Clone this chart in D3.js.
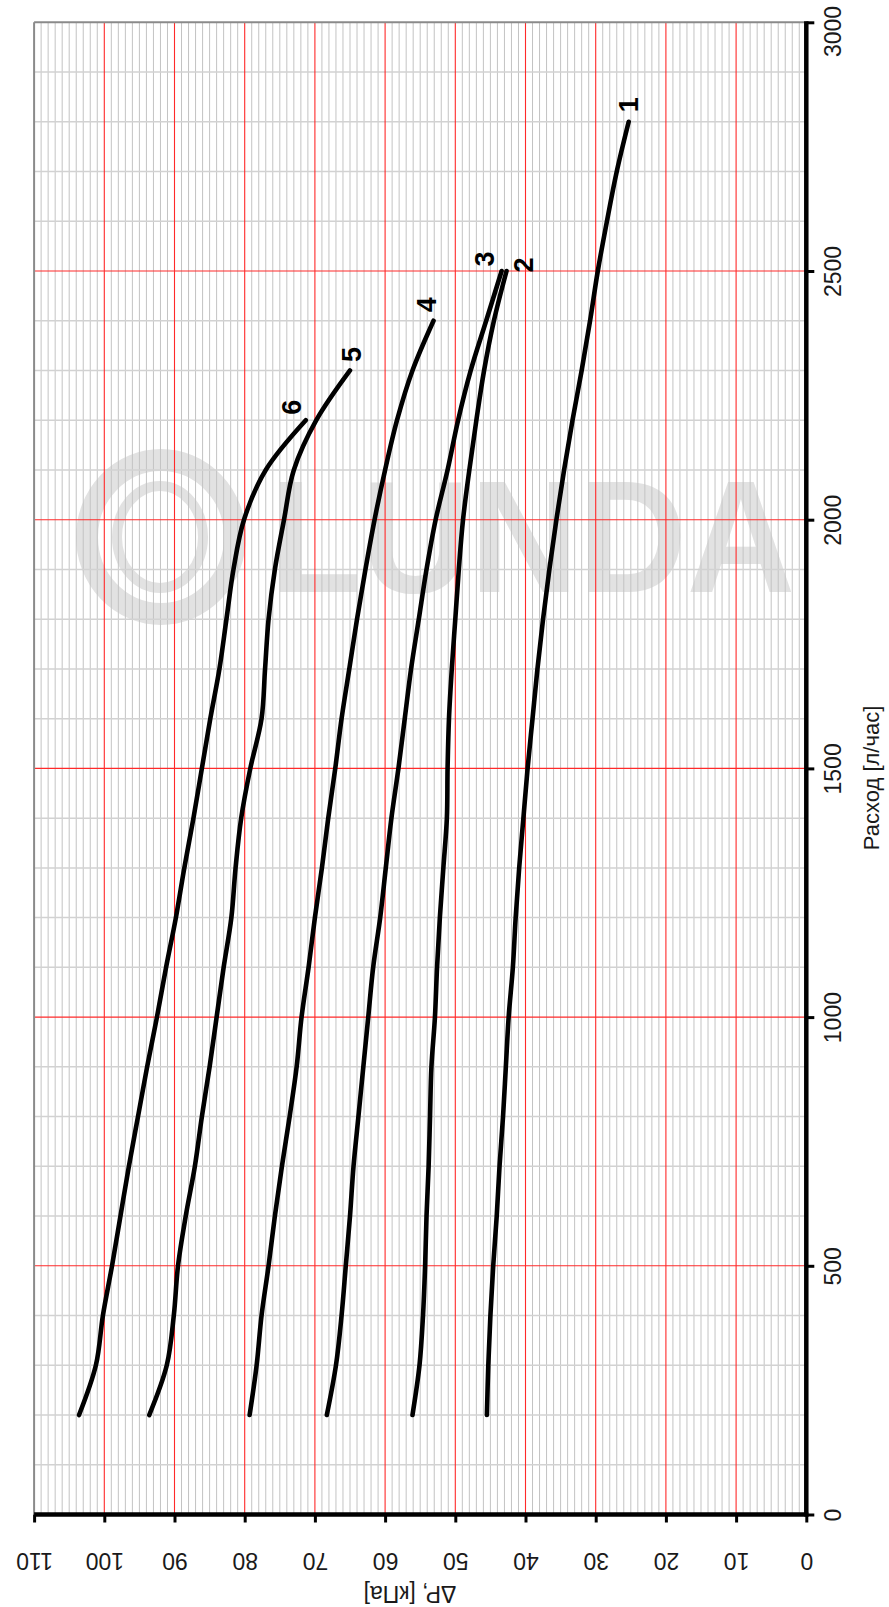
<!DOCTYPE html>
<html>
<head>
<meta charset="utf-8">
<script src="https://cdn.jsdelivr.net/npm/d3@7"></script>
<style>
html,body{margin:0;padding:0;background:#fff;}
svg{display:block;font-family:"Liberation Sans",Arial,sans-serif;}
</style>
</head>
<body>
<svg id="chart" width="889" height="1607"></svg>
<script>
// ---- data ----
const flowPoints = [200,300,400,500,600,700,800,900,1000,1100,1200,1300,1400,1500,1600,1700,1800,1900,2000,2100,2200,2300,2400,2500,2600,2700,2800];
const dp1 = [45.5,45.3,45.0,44.6,44.1,43.7,43.2,42.8,42.4,41.8,41.4,40.9,40.3,39.7,39.0,38.3,37.5,36.6,35.6,34.5,33.3,32.0,30.8,29.7,28.4,27.0,25.3];
const dp2 = [56.1,55.1,54.6,54.3,54.1,53.8,53.6,53.4,52.9,52.6,52.2,51.7,51.2,51.1,50.9,50.5,50.0,49.5,48.9,48.0,47.0,45.9,44.5,42.7];
const dp3 = [68.3,67.0,66.2,65.6,65.0,64.5,63.8,63.1,62.4,61.7,60.7,59.9,59.1,58.1,57.2,56.3,55.2,54.1,52.8,51.1,49.6,47.8,45.6,43.4];
const dp4 = [79.3,78.3,77.6,76.6,75.7,74.7,73.6,72.6,71.9,70.9,70.0,69.0,68.1,67.1,66.2,65.1,64.0,62.8,61.5,60.0,58.3,56.1,53.1];
const dp5 = [93.6,91.1,90.1,89.5,88.4,87.1,86.1,85.0,84.0,83.0,81.9,81.3,80.5,79.2,77.6,77.1,76.6,75.7,74.4,73.0,69.8,65.0];
const dp6 = [103.6,101.2,100.2,98.9,97.7,96.5,95.2,93.9,92.5,91.2,89.8,88.6,87.3,86.1,84.9,83.6,82.6,81.6,80.1,77.0,71.3];
const curveNames = ["1","2","3","4","5","6"];
const flowTicks = [0,500,1000,1500,2000,2500,3000];
const dpTicks = [0,10,20,30,40,50,60,70,80,90,100,110];
const flowTitle = "Расход [л/час]";
const dpTitle = "ΔP, [кПа]";
const watermarkText = "LUNDA";

// label nudges (pixels) relative to curve end points
const labelNudge = [[0,-17],[17,-6],[-17,-12],[-7,-16],[2,-16],[-14,-13]];

const series = [dp1,dp2,dp3,dp4,dp5,dp6].map((arr,i)=>({
  name: curveNames[i],
  pts: arr.map((v,j)=>({f: flowPoints[j], p: v}))
}));

// ---- scales (chart rotated: flow runs up, ΔP runs to the left) ----
const y = d3.scaleLinear().domain([0,3000]).range([1514.5,22.3]);
const x = d3.scaleLinear().domain([0,110]).range([806.3,34.1]);

const svg = d3.select("#chart");

// ---- watermark ----
const wmColor = "#e2e2e2";
const wm = svg.append("g").attr("class","watermark");
wm.append("ellipse").attr("cx",161).attr("cy",537).attr("rx",74).attr("ry",77)
  .attr("fill","none").attr("stroke",wmColor).attr("stroke-width",22);
wm.append("ellipse").attr("cx",160).attr("cy",537).attr("rx",43).attr("ry",51)
  .attr("fill","none").attr("stroke",wmColor).attr("stroke-width",10);
wm.append("text").attr("x",270).attr("y",592)
  .attr("font-size",160).attr("font-weight","bold").attr("fill",wmColor)
  .attr("textLength",525).attr("lengthAdjust","spacingAndGlyphs")
  .text(watermarkText);

// ---- grid ----
const grid = svg.append("g").attr("class","grid");
const minorDP = d3.range(1,110).filter(v=>v%10!==0);
const minorFlow = d3.range(100,3000,100).filter(v=>v%500!==0);
grid.selectAll("line.mv").data(minorDP).join("line").attr("class","mv")
  .attr("x1",d=>x(d)).attr("x2",d=>x(d)).attr("y1",y(3000)).attr("y2",y(0))
  .attr("stroke","#c3c3c3").attr("stroke-width",1);
grid.selectAll("line.mh").data(minorFlow).join("line").attr("class","mh")
  .attr("x1",x(110)).attr("x2",x(0)).attr("y1",d=>y(d)).attr("y2",d=>y(d))
  .attr("stroke","#d2d2d2").attr("stroke-width",1.5);
grid.selectAll("line.Mv").data(d3.range(10,110,10)).join("line").attr("class","Mv")
  .attr("x1",d=>x(d)).attr("x2",d=>x(d)).attr("y1",y(3000)).attr("y2",y(0))
  .attr("stroke","#ff2a2a").attr("stroke-width",1.1);
grid.selectAll("line.Mh").data(d3.range(500,3000,500)).join("line").attr("class","Mh")
  .attr("x1",x(110)).attr("x2",x(0)).attr("y1",d=>y(d)).attr("y2",d=>y(d))
  .attr("stroke","#ff2a2a").attr("stroke-width",1.1);

// frame (top & left) in gray
svg.append("line").attr("x1",x(110)).attr("x2",x(0)).attr("y1",y(3000)).attr("y2",y(3000))
  .attr("stroke","#8a8a8a").attr("stroke-width",2);
svg.append("line").attr("x1",x(110)).attr("x2",x(110)).attr("y1",y(3000)).attr("y2",y(0))
  .attr("stroke","#8a8a8a").attr("stroke-width",2);

// ---- curves ----
const line = d3.line().x(d=>x(d.p)).y(d=>y(d.f)).curve(d3.curveCatmullRom.alpha(0.5));
svg.append("g").selectAll("path").data(series).join("path")
  .attr("d",d=>line(d.pts)).attr("fill","none").attr("stroke","#000")
  .attr("stroke-width",4.6).attr("stroke-linecap","round").attr("stroke-linejoin","round");

// curve labels
svg.append("g").selectAll("text").data(series).join("text")
  .attr("transform",(d,i)=>{
    const e = d.pts[d.pts.length-1];
    return `translate(${x(e.p)+labelNudge[i][0]},${y(e.f)+labelNudge[i][1]}) rotate(-90)`;
  })
  .attr("text-anchor","middle").attr("dominant-baseline","central")
  .attr("font-size",27).attr("font-weight","bold").attr("fill","#000")
  .text(d=>d.name);

// ---- axes ----
const axR = svg.append("g").attr("transform",`translate(${x(0)},0)`)
  .call(d3.axisRight(y).tickValues(flowTicks).tickSize(8).tickSizeOuter(0).tickFormat(d3.format("d")));
axR.select(".domain").attr("stroke","#000").attr("stroke-width",4.5)
  .attr("d",`M0,${y(3000)-1}V${y(0)+2}`);
axR.selectAll(".tick line").attr("stroke","#000").attr("stroke-width",3);
axR.selectAll(".tick text")
  .attr("x",null).attr("dy",null)
  .attr("transform",d=>{
    const len = 46, yy = y(d);
    const shift = (yy - len/2 < 8) ? (8 + len/2 - yy) : 0;
    return `translate(27,${shift}) rotate(-90)`;
  })
  .attr("text-anchor","middle").attr("dominant-baseline","central")
  .attr("font-size",23).attr("font-family","'Liberation Sans',Arial,sans-serif").attr("fill","#1a1a1a");

const axB = svg.append("g").attr("transform",`translate(0,${y(0)})`)
  .call(d3.axisBottom(x).tickValues(dpTicks).tickSize(8).tickSizeOuter(0).tickFormat(d3.format("d")));
axB.select(".domain").attr("stroke","#000").attr("stroke-width",4.5)
  .attr("d",`M${x(110)},0H${x(0)+2}`);
axB.selectAll(".tick line").attr("stroke","#000").attr("stroke-width",3);
axB.selectAll(".tick text")
  .attr("y",null).attr("dy",null)
  .attr("transform","translate(0,46) rotate(180)")
  .attr("text-anchor","middle").attr("dominant-baseline","central")
  .attr("font-size",23).attr("font-family","'Liberation Sans',Arial,sans-serif").attr("fill","#1a1a1a");

// axis titles
svg.append("text")
  .attr("transform",`translate(871,778) rotate(-90)`)
  .attr("text-anchor","middle").attr("dominant-baseline","central")
  .attr("font-size",22).attr("fill","#1a1a1a").text(flowTitle);
svg.append("text")
  .attr("transform",`translate(410,1594) rotate(180)`)
  .attr("text-anchor","middle").attr("dominant-baseline","central")
  .attr("font-size",23).attr("fill","#1a1a1a").text(dpTitle);
</script>
</body>
</html>
